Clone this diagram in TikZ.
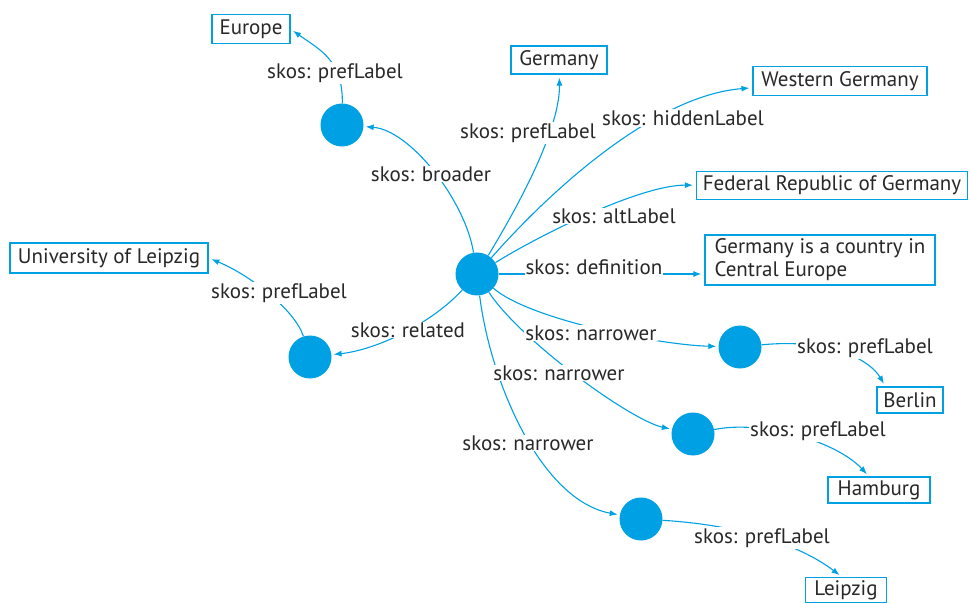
\documentclass[tikz,border=0pt]{standalone}
\usepackage{fontspec}
\setmainfont{PT Sans}
\usetikzlibrary{arrows.meta,backgrounds}
\definecolor{skblue}{RGB}{0,161,228}
\definecolor{sktext}{RGB}{40,40,40}
\begin{document}
\begin{tikzpicture}[x=1pt,y=-1pt,
  concept/.style={circle,fill=skblue,minimum size=43pt,inner sep=0pt},
  litbox/.style={draw=skblue,line width=1.2pt,text=sktext,inner sep=0pt,font=\fontsize{21}{23}\selectfont},
  rel/.style={text=sktext,fill=white,inner sep=1pt,font=\fontsize{21}{23}\selectfont},
  edge/.style={draw=skblue,line width=1.1pt,-{Latex[length=8pt,width=6pt]},shorten >=2pt},
  tobox/.style={edge,shorten >=3pt}
]
\useasboundingbox (0,0) rectangle (970,604);
% concepts
\node[concept] (C) at (477,274) {};
\node[concept] (B) at (342,125) {};
\node[concept] (R) at (310,357) {};
\node[concept] (N1) at (740,347) {};
\node[concept] (N2) at (693,434) {};
\node[concept] (N3) at (641,519) {};
% literal boxes
\node[litbox,minimum width=78pt,minimum height=29pt] (Europe) at (251,29) {Europe};
\node[litbox,minimum width=96pt,minimum height=28pt] (Germany) at (559,60) {Germany};
\node[litbox,minimum width=174pt,minimum height=29pt] (West) at (840,81) {Western Germany};
\node[litbox,minimum width=271pt,minimum height=28pt] (Fed) at (832,185.5) {Federal Republic of Germany};
\node[litbox,minimum width=230pt,minimum height=50pt,align=left] (Def) at (820,260) {Germany is a country in\\Central Europe};
\node[litbox,minimum width=198pt,minimum height=30pt] (Univ) at (109,258) {University of Leipzig};
\node[litbox,minimum width=66pt,minimum height=26pt] (Berlin) at (910,400) {Berlin};
\node[litbox,minimum width=102pt,minimum height=26pt] (Hamburg) at (879,490) {Hamburg};
\node[litbox,minimum width=81pt,minimum height=25pt] (Leipzig) at (846,590) {Leipzig};
% relation labels
\node[rel] (lEu) at (335,73) {skos: prefLabel};
\node[rel] (lBr) at (431,174) {skos: broader};
\node[rel] (lGe) at (528,133) {skos: prefLabel};
\node[rel] (lHi) at (683,118) {skos: hiddenLabel};
\node[rel] (lAl) at (614,216) {skos: altLabel};
\node[rel] (lDe) at (594,267) {skos: definition};
\node[rel] (lUn) at (279,293) {skos: prefLabel};
\node[rel] (lRe) at (408,330) {skos: related};
\node[rel] (lN1) at (591,333) {skos: narrower};
\node[rel] (lN2) at (559,373) {skos: narrower};
\node[rel] (lN3) at (528,443) {skos: narrower};
\node[rel] (lBe) at (865,348) {skos: prefLabel};
\node[rel] (lHa) at (818,431) {skos: prefLabel};
\node[rel] (lLe) at (762,538) {skos: prefLabel};
% connectors
\begin{pgfonlayer}{background}
\fill[white] (0,0) rectangle (970,604);
\draw[edge] (C) .. controls (465,200) and (410,130) .. (B);
\draw[tobox] (B) .. controls (343,60) and (320,50) .. (Europe.east);
\draw[tobox] (C) .. controls (540,170) and (560,115) .. (Germany);
\draw[tobox] (C) .. controls (560,180) and (660,95) .. (West);
\draw[tobox] (C) .. controls (540,235) and (640,185) .. (Fed);
\draw[tobox] (C) -- (C -| Def.west);
\draw[edge] (C) .. controls (430,325) and (375,350) .. (R);
\draw[tobox] (R) .. controls (295,310) and (250,275) .. (Univ.east);
\draw[edge] (C) .. controls (530,320) and (660,345) .. (N1);
\draw[edge] (C) .. controls (520,340) and (630,420) .. (N2);
\draw[edge] (C) .. controls (490,380) and (540,500) .. (N3);
\draw[tobox] (N1) .. controls (830,338) and (870,360) .. ([xshift=9pt]Berlin.north west);
\draw[tobox] (N2) .. controls (760,420) and (835,440) .. ([xshift=-10pt]Hamburg.north);
\draw[tobox] (N3) .. controls (740,525) and (800,545) .. ([xshift=-4pt]Leipzig.north);
\end{pgfonlayer}
\end{tikzpicture}
\end{document}
